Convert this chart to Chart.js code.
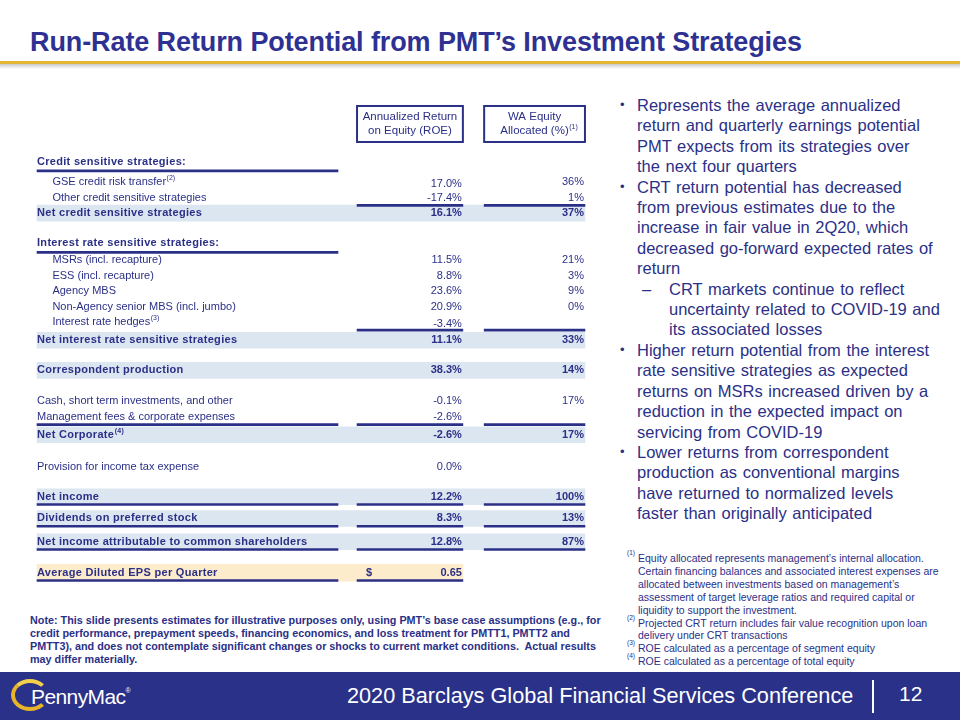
<!DOCTYPE html>
<html>
<head>
<meta charset="utf-8">
<script src="https://cdn.jsdelivr.net/npm/chart.js@4.4.1/dist/chart.umd.min.js"></script>
<style>
  html, body { margin: 0; padding: 0; }
  body {
    width: 960px; height: 720px; position: relative; overflow: hidden;
    background: #fff; font-family: "Liberation Sans", Arial, sans-serif; color: #2b3087;
  }
  #title {
    position: absolute; left: 30px; top: 27px; font-size: 27px; font-weight: bold;
    color: #2e3192; white-space: nowrap; letter-spacing: -0.1px;
  }
  #rule { position: absolute; left: 0; top: 61px; width: 960px; height: 3px; background: #e2b634; }
  #ruleShadow { position: absolute; left: 0; top: 64px; width: 960px; height: 5px;
    background: linear-gradient(#c9c9c9, rgba(255,255,255,0)); }
  #table { position: absolute; left: 30px; top: 95px; }
  #bullets { position: absolute; left: 620px; top: 95px; width: 335px; font-size: 16.5px; line-height: 20.4px; word-spacing: 1px; }
  .b { position: relative; padding-left: 17px; white-space: nowrap; }
  .b::before { content: "\2022"; position: absolute; left: 0; top: 0; font-size: 13px; }
  .sub { position: relative; padding-left: 49px; white-space: nowrap; }
  .sub::before { content: "\2013"; position: absolute; left: 22px; top: 0; }
  #notes { position: absolute; left: 627px; top: 552px; font-size: 10.5px; line-height: 12.9px; }
  .fn { position: relative; padding-left: 11px; white-space: nowrap; }
  .fn sup { position: absolute; left: 0; top: -2px; font-size: 6.5px; line-height: 1; }
  #disclaimer { position: absolute; left: 30px; top: 614px; font-size: 10.8px; font-weight: bold;
    line-height: 13px; white-space: nowrap; }
  #footer { position: absolute; left: 0; top: 672px; width: 960px; height: 48px; background: #2a3188; }
  #conf { position: absolute; left: 347px; top: 683px; font-size: 21.7px; color: #fff; white-space: nowrap; }
  #sep { position: absolute; left: 872px; top: 680px; width: 2px; height: 33px; background: #fff; }
  #page { position: absolute; left: 899px; top: 682px; font-size: 21px; color: #fff; }
  #swoosh { position: absolute; left: 11px; top: 679px; width: 38px; height: 32px; border-radius: 50%;
    border: 4px solid #e8b428; border-right-color: transparent; border-top-color: #f3cf4a; box-sizing: border-box; }
  #brand { position: absolute; left: 31px; top: 685px; font-size: 21px; color: #fff; letter-spacing: -0.6px; }
  #brand sup { font-size: 7px; vertical-align: 11px; }
</style>
</head>
<body>
<div id="title">Run-Rate Return Potential from PMT’s Investment Strategies</div>
<div id="rule"></div>
<div id="ruleShadow"></div>

<canvas id="table" width="560" height="496"></canvas>

<div id="bullets">
  <div class="b">Represents the average annualized<br>return and quarterly earnings potential<br>PMT expects from its strategies over<br>the next four quarters</div>
  <div class="b">CRT return potential has decreased<br>from previous estimates due to the<br>increase in fair value in 2Q20, which<br>decreased go-forward expected rates of<br>return</div>
  <div class="sub">CRT markets continue to reflect<br>uncertainty related to COVID-19 and<br>its associated losses</div>
  <div class="b">Higher return potential from the interest<br>rate sensitive strategies as expected<br>returns on MSRs increased driven by a<br>reduction in the expected impact on<br>servicing from COVID-19</div>
  <div class="b">Lower returns from correspondent<br>production as conventional margins<br>have returned to normalized levels<br>faster than originally anticipated</div>
</div>

<div id="notes">
  <div class="fn"><sup>(1)</sup>Equity allocated represents management’s internal allocation.<br>Certain financing balances and associated interest expenses are<br>allocated between investments based on management’s<br>assessment of target leverage ratios and required capital or<br>liquidity to support the investment.</div>
  <div class="fn"><sup>(2)</sup>Projected CRT return includes fair value recognition upon loan<br>delivery under CRT transactions</div>
  <div class="fn"><sup>(3)</sup>ROE calculated as a percentage of segment equity</div>
  <div class="fn"><sup>(4)</sup>ROE calculated as a percentage of total equity</div>
</div>

<div id="disclaimer">Note: This slide presents estimates for illustrative purposes only, using PMT’s base case assumptions (e.g., for<br>credit performance, prepayment speeds, financing economics, and loss treatment for PMTT1, PMTT2 and<br>PMTT3), and does not contemplate significant changes or shocks to current market conditions.&nbsp; Actual results<br>may differ materially.</div>

<div id="footer"></div>
<div id="swoosh"></div>
<div id="brand">PennyMac<sup>®</sup></div>
<div id="conf">2020 Barclays Global Financial Services Conference</div>
<div id="sep"></div>
<div id="page">12</div>

<script>
// --- table data ---
const rowLabels = [
  'Credit sensitive strategies:',
  'GSE credit risk transfer',
  'Other credit sensitive strategies',
  'Net credit sensitive strategies',
  'Interest rate sensitive strategies:',
  'MSRs (incl. recapture)',
  'ESS (incl. recapture)',
  'Agency MBS',
  'Non-Agency senior MBS (incl. jumbo)',
  'Interest rate hedges',
  'Net interest rate sensitive strategies',
  'Correspondent production',
  'Cash, short term investments, and other',
  'Management fees & corporate expenses',
  'Net Corporate',
  'Provision for income tax expense',
  'Net income',
  'Dividends on preferred stock',
  'Net income attributable to common shareholders',
  'Average Diluted EPS per Quarter'
];
const rowNotes = ['', '(2)', '', '', '', '', '', '', '', '(3)', '', '', '', '', '(4)', '', '', '', '', ''];
// head = section header, item = indented line, plain = unindented line, total = shaded subtotal
const rowKinds = ['head', 'item', 'item', 'total', 'head', 'item', 'item', 'item', 'item', 'item',
  'total', 'total', 'plain', 'plain', 'total', 'plain', 'total', 'total', 'total', 'eps'];
const roeValues = [null, 17.0, -17.4, 16.1, null, 11.5, 8.8, 23.6, 20.9, -3.4,
  11.1, 38.3, -0.1, -2.6, -2.6, 0.0, 12.2, 8.3, 12.8, null];
const equityValues = [null, 36, 1, 37, null, 21, 3, 9, 0, null,
  33, 14, 17, null, 17, null, 100, 13, 87, null];
const epsPerQuarter = 0.65;
const columnHeaders = [['Annualized Return', 'on Equity (ROE)'], ['WA Equity', 'Allocated (%)']];
const columnNotes = ['', '(1)'];

// --- layout ---
const NAVY = '#2b3087';
const BAND = '#dce6f1';
const EPS_BAND = '#fdeccb';
const FONT = '"Liberation Sans", Arial, sans-serif';
// vertical gap before each row, in line units
const ROW_GAPS = [0, 1.3, 1, 1, 1.95, 1.1, 1, 1, 1, 1, 1.15, 1.95, 2, 1, 1.15, 2.05, 1.95, 1.4, 1.5, 2];
const HEADER_Y = -2.45;
const COL = { band: 0.0125, label: 0.0125, indent: 0.04, labelEnd: 0.55,
  roe: 0.584, roeEnd: 0.773, eq: 0.811, eqEnd: 0.991 };
// which column underlines sit below a row: L label, R roe, E equity
const RULES_BELOW = { 0: 'L', 2: 'RE', 4: 'L', 9: 'RE', 13: 'LRE', 16: 'LRE', 17: 'LRE', 18: 'LRE', 19: 'LR' };

const rowPos = [];
ROW_GAPS.reduce((acc, g) => { acc += g; rowPos.push(acc); return acc; }, 0);

const bandPoints = [];
const epsPoints = [];
rowKinds.forEach((k, i) => {
  if (k === 'total') bandPoints.push({ y: rowPos[i], x: [COL.band, COL.eqEnd] });
  if (k === 'eps') epsPoints.push({ y: rowPos[i], x: [COL.band, COL.roeEnd] });
});

const ruleSpans = { L: [COL.band, COL.labelEnd], R: [COL.roe, COL.roeEnd], E: [COL.eq, COL.eqEnd] };
const rulePoints = [];
Object.keys(RULES_BELOW).forEach(i => {
  const off = rowKinds[i] === 'head' ? 0.58 : 0.5;
  RULES_BELOW[i].split('').forEach(c => rulePoints.push({ y: rowPos[i] + off, x: ruleSpans[c] }));
});

function pct(v, digits) {
  return v.toFixed(digits) + '%';
}

const tableText = {
  id: 'tableText',
  afterDatasetsDraw(chart) {
    const { ctx, scales: { x, y } } = chart;
    ctx.save();
    ctx.fillStyle = NAVY;
    ctx.strokeStyle = NAVY;
    ctx.textBaseline = 'middle';

    // column header boxes
    const hy = y.getPixelForValue(HEADER_Y);
    [[COL.roe, COL.roeEnd], [COL.eq, COL.eqEnd]].forEach((span, c) => {
      const x0 = x.getPixelForValue(span[0]);
      const x1 = x.getPixelForValue(span[1]);
      ctx.lineWidth = 2;
      ctx.strokeRect(x0, hy - 18, x1 - x0, 36);
      ctx.font = '11.5px ' + FONT;
      ctx.textAlign = 'center';
      const cx = (x0 + x1) / 2;
      ctx.fillText(columnHeaders[c][0], cx, hy - 7);
      ctx.fillText(columnHeaders[c][1], cx, hy + 7);
      if (columnNotes[c]) {
        const w = ctx.measureText(columnHeaders[c][1]).width;
        ctx.font = '7px ' + FONT;
        ctx.textAlign = 'left';
        ctx.fillText(columnNotes[c], cx + w / 2 + 0.5, hy + 3);
      }
    });

    rowLabels.forEach((label, i) => {
      const kind = rowKinds[i];
      const py = y.getPixelForValue(rowPos[i]);
      const bold = kind === 'head' || kind === 'total' || kind === 'eps';
      const f = (bold ? 'bold ' : '') + '11px ' + FONT;
      ctx.font = f;
      ctx.letterSpacing = bold ? '0.3px' : '0px';
      ctx.textAlign = 'left';
      const lx = x.getPixelForValue(kind === 'item' ? COL.indent : COL.label);
      ctx.fillText(label, lx, py);
      if (rowNotes[i]) {
        const w = ctx.measureText(label).width;
        ctx.font = (bold ? 'bold ' : '') + '7px ' + FONT;
        ctx.fillText(rowNotes[i], lx + w + 0.5, py - 4);
        ctx.font = f;
      }
      ctx.letterSpacing = '0px';
      ctx.textAlign = 'right';
      if (roeValues[i] !== null) {
        ctx.fillText(pct(roeValues[i], 1), x.getPixelForValue(COL.roeEnd) - 1, py + (rowNotes[i] && kind === 'item' ? 2 : 0));
      }
      if (equityValues[i] !== null) {
        ctx.fillText(pct(equityValues[i], 0), x.getPixelForValue(COL.eqEnd) - 1, py);
      }
      if (kind === 'eps') {
        ctx.fillText(epsPerQuarter.toFixed(2), x.getPixelForValue(COL.roeEnd) - 1, py);
        ctx.textAlign = 'left';
        ctx.fillText('$', x.getPixelForValue(COL.roe) + 9, py);
      }
    });
    ctx.restore();
  }
};

new Chart(document.getElementById('table'), {
  type: 'bar',
  data: {
    datasets: [
      { label: 'bands', data: bandPoints, backgroundColor: BAND, barThickness: 16, grouped: false, order: 2 },
      { label: 'eps', data: epsPoints, backgroundColor: EPS_BAND, barThickness: 17, grouped: false, order: 2 },
      { label: 'rules', data: rulePoints, backgroundColor: NAVY, barThickness: 2, grouped: false, order: 1 }
    ]
  },
  options: {
    indexAxis: 'y',
    responsive: false,
    animation: false,
    layout: { padding: 0 },
    plugins: { legend: { display: false }, tooltip: { enabled: false } },
    scales: {
      x: { type: 'linear', min: 0, max: 1, display: false, offset: false },
      y: { type: 'linear', reverse: true, min: -4.32, max: 27.68, display: false, offset: false }
    }
  },
  plugins: [tableText]
});
</script>
</body>
</html>
